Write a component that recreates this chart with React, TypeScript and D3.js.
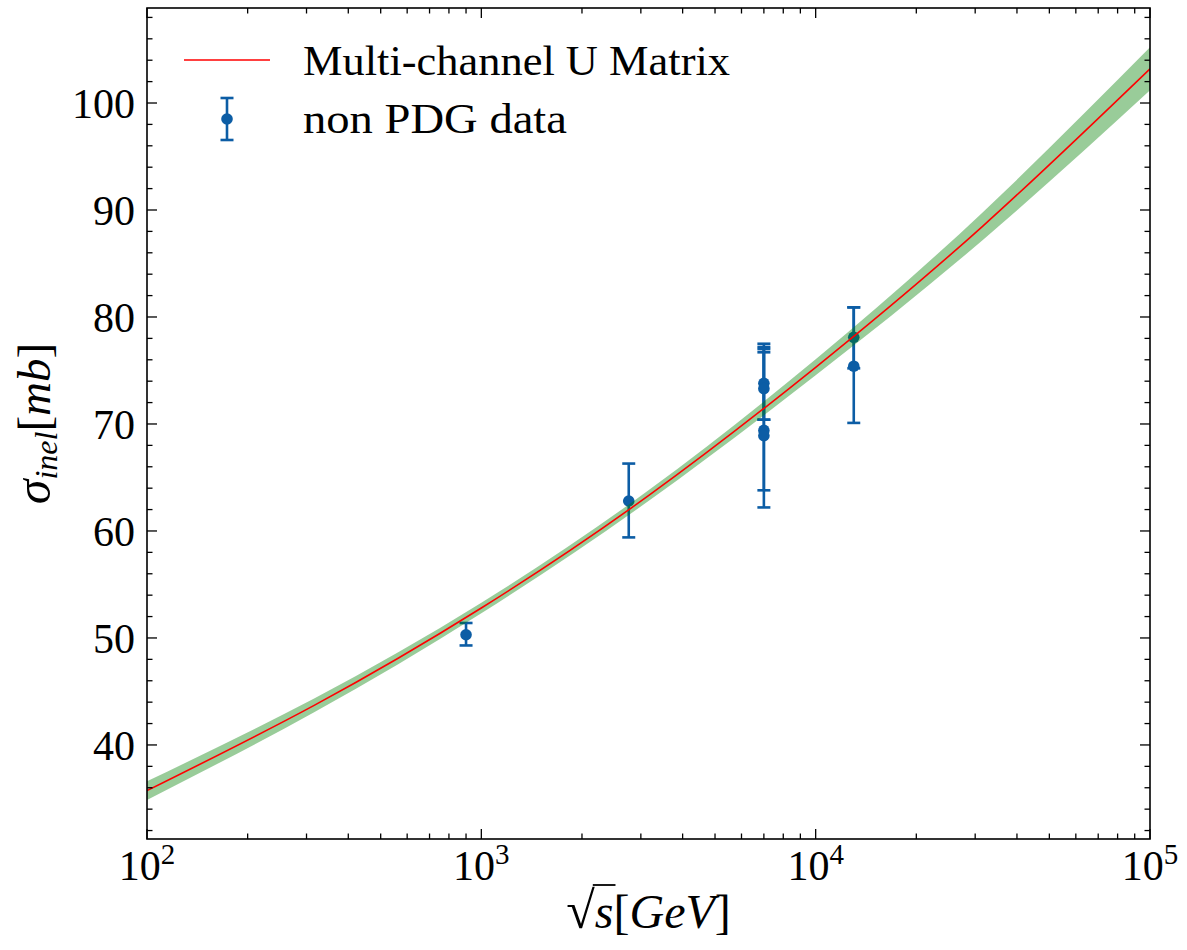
import React, { useEffect, useRef } from "react";
import * as d3 from "d3";

// Model curve : sqrt(s) [GeV] -> sigma_inel [mb]
const curveEnergy = [1e2, 316.2, 1e3, 3162, 1e4, 31623, 1e5];
const curveSigma = [35.73, 43.7, 52.8, 63.3, 75.3, 88.5, 103.2];
const curveBand = [0.87, 0.65, 0.5, 0.5, 0.75, 1.3, 2.0];

// non PDG data points
const dataEnergy = [900, 2760, 7000, 7000, 7000, 7000, 13000, 13000];
const dataSigma = [50.3, 62.8, 73.8, 73.3, 69.4, 68.9, 78.1, 75.4];
const dataLow = [49.3, 59.4, 70.4, 70.4, 63.8, 62.2, 75.2, 70.1];
const dataHigh = [51.4, 66.3, 77.5, 76.7, 77.2, 77.0, 80.9, 80.9];

const xDecades = [2, 3, 4, 5];
const yTicks = [40, 50, 60, 70, 80, 90, 100];

const W = 1187;
const H = 950;
const L = 147;
const R = 1150;
const T = 8;
const B = 839;
const FONT = "'Liberation Serif', 'DejaVu Serif', serif";
const FS = 42;
const BLUE = "#0C5DA5";

export default function App() {
  const ref = useRef<SVGSVGElement>(null);

  useEffect(() => {
    const svg = d3.select(ref.current);
    svg.selectAll("*").remove();

    const x = d3.scaleLog().domain([1e2, 1e5]).range([L, R]);
    const y = d3.scaleLinear().domain([31.21, 108.88]).range([B, T]);

    svg.append("rect").attr("width", W).attr("height", H).attr("fill", "white");

    const defs = svg.append("defs");
    defs
      .append("clipPath")
      .attr("id", "plotclip")
      .append("rect")
      .attr("x", L)
      .attr("y", T)
      .attr("width", R - L)
      .attr("height", B - T);

    const plot = svg.append("g").attr("clip-path", "url(#plotclip)");

    // error bars
    const pts = dataEnergy.map((e, i) => ({
      e,
      v: dataSigma[i],
      lo: dataLow[i],
      hi: dataHigh[i],
    }));
    const eb = plot.append("g");
    pts.forEach((p) => {
      const px = x(p.e);
      eb.append("line")
        .attr("x1", px).attr("x2", px)
        .attr("y1", y(p.lo)).attr("y2", y(p.hi))
        .attr("stroke", BLUE).attr("stroke-width", 2.6);
      [p.lo, p.hi].forEach((c) => {
        eb.append("line")
          .attr("x1", px - 6.5).attr("x2", px + 6.5)
          .attr("y1", y(c)).attr("y2", y(c))
          .attr("stroke", BLUE).attr("stroke-width", 2.6);
      });
    });
    pts.forEach((p) => {
      eb.append("circle")
        .attr("cx", x(p.e)).attr("cy", y(p.v)).attr("r", 5.8)
        .attr("fill", BLUE);
    });

    const curve = curveEnergy.map((e, i) => ({
      e,
      v: curveSigma[i],
      b: curveBand[i],
    }));

    const area = d3
      .area<{ e: number; v: number; b: number }>()
      .x((d) => x(d.e))
      .y0((d) => y(d.v - d.b))
      .y1((d) => y(d.v + d.b))
      .curve(d3.curveNatural);
    plot.append("path")
      .attr("d", area(curve) || "")
      .attr("fill", "green")
      .attr("fill-opacity", 0.4);

    const line = d3
      .line<{ e: number; v: number; b: number }>()
      .x((d) => x(d.e))
      .y((d) => y(d.v))
      .curve(d3.curveNatural);
    plot.append("path")
      .attr("d", line(curve) || "")
      .attr("fill", "none")
      .attr("stroke", "red")
      .attr("stroke-width", 1.6);

    // ticks
    const tk = svg.append("g").attr("stroke", "black").attr("stroke-width", 1.3);
    const MAJ = 10;
    const MIN = 5.5;
    for (let d = 2; d <= 5; d++) {
      const v = Math.pow(10, d);
      const px = x(v);
      tk.append("line").attr("x1", px).attr("x2", px).attr("y1", B).attr("y2", B - MAJ);
      tk.append("line").attr("x1", px).attr("x2", px).attr("y1", T).attr("y2", T + MAJ);
      if (d < 5) {
        for (let k = 2; k <= 9; k++) {
          const mx = x(k * v);
          tk.append("line").attr("x1", mx).attr("x2", mx).attr("y1", B).attr("y2", B - MIN);
          tk.append("line").attr("x1", mx).attr("x2", mx).attr("y1", T).attr("y2", T + MIN);
        }
      }
    }
    for (let v = 32; v <= 108; v += 2) {
      const py = y(v);
      const major = v % 10 === 0;
      const len = major ? MAJ : MIN;
      tk.append("line").attr("x1", L).attr("x2", L + len).attr("y1", py).attr("y2", py);
      tk.append("line").attr("x1", R).attr("x2", R - len).attr("y1", py).attr("y2", py);
    }

    // frame
    svg.append("rect")
      .attr("x", L).attr("y", T)
      .attr("width", R - L).attr("height", B - T)
      .attr("fill", "none").attr("stroke", "black").attr("stroke-width", 1.6);

    // x tick labels
    xDecades.forEach((d) => {
      const t = svg.append("text")
        .attr("x", x(Math.pow(10, d)))
        .attr("y", 880)
        .attr("text-anchor", "middle")
        .attr("font-family", FONT)
        .attr("font-size", FS)
        .attr("fill", "black");
      t.append("tspan").text("10");
      t.append("tspan").attr("font-size", 29).attr("dy", -16).text(String(d));
    });

    // y tick labels
    yTicks.forEach((v) => {
      svg.append("text")
        .attr("x", 135)
        .attr("y", y(v))
        .attr("dy", "0.36em")
        .attr("text-anchor", "end")
        .attr("font-family", FONT)
        .attr("font-size", FS)
        .attr("fill", "black")
        .text(String(v));
    });

    // x axis label: sqrt(s)[GeV]
    const xl = svg.append("text")
      .attr("x", (L + R) / 2)
      .attr("y", 928)
      .attr("text-anchor", "middle")
      .attr("font-family", FONT)
      .attr("font-size", 48)
      .attr("fill", "black");
    xl.append("tspan").attr("font-size", 52).text("\u221A");
    xl.append("tspan").attr("font-style", "italic").text("s");
    xl.append("tspan").text("[");
    xl.append("tspan").attr("font-style", "italic").text("GeV");
    xl.append("tspan").text("]");
    try {
      const node = xl.node() as SVGTextElement;
      const ext0 = node.getExtentOfChar(0);
      const ext1 = node.getExtentOfChar(1);
      svg.append("line")
        .attr("x1", ext0.x + ext0.width - 2)
        .attr("x2", ext1.x + ext1.width + 2)
        .attr("y1", ext0.y + 3)
        .attr("y2", ext0.y + 3)
        .attr("stroke", "black")
        .attr("stroke-width", 1.8);
    } catch (e) {
      // ignore
    }

    // y axis label
    const yl = svg.append("text")
      .attr("transform", `translate(50,${(T + B) / 2}) rotate(-90)`)
      .attr("text-anchor", "middle")
      .attr("font-family", FONT)
      .attr("font-size", 47)
      .attr("fill", "black");
    yl.append("tspan").attr("font-style", "italic").attr("font-size", 50).text("\u03C3");
    yl.append("tspan").attr("font-style", "italic").attr("font-size", 32).attr("dy", 7).text("inel");
    yl.append("tspan").attr("dy", -7).text("[");
    yl.append("tspan").attr("font-style", "italic").text("mb");
    yl.append("tspan").text("]");

    // legend
    const lg = svg.append("g");
    lg.append("line")
      .attr("x1", 184).attr("x2", 270).attr("y1", 60).attr("y2", 60)
      .attr("stroke", "red").attr("stroke-width", 1.6);
    lg.append("line")
      .attr("x1", 227).attr("x2", 227).attr("y1", 98).attr("y2", 140)
      .attr("stroke", BLUE).attr("stroke-width", 2.6);
    [98, 140].forEach((cy) => {
      lg.append("line")
        .attr("x1", 220.5).attr("x2", 233.5).attr("y1", cy).attr("y2", cy)
        .attr("stroke", BLUE).attr("stroke-width", 2.6);
    });
    lg.append("circle").attr("cx", 227).attr("cy", 119).attr("r", 5.8).attr("fill", BLUE);
    lg.append("text")
      .attr("x", 303).attr("y", 75)
      .attr("font-family", FONT).attr("font-size", FS).attr("fill", "black")
      .attr("textLength", 427).attr("lengthAdjust", "spacingAndGlyphs")
      .text("Multi-channel U Matrix");
    lg.append("text")
      .attr("x", 303).attr("y", 133)
      .attr("font-family", FONT).attr("font-size", FS).attr("fill", "black")
      .attr("textLength", 264).attr("lengthAdjust", "spacingAndGlyphs")
      .text("non PDG data");
  }, []);

  return (
    <div style={{ position: "absolute", left: 0, top: 0 }}>
      <svg ref={ref} width={W} height={H} style={{ display: "block" }} />
    </div>
  );
}
